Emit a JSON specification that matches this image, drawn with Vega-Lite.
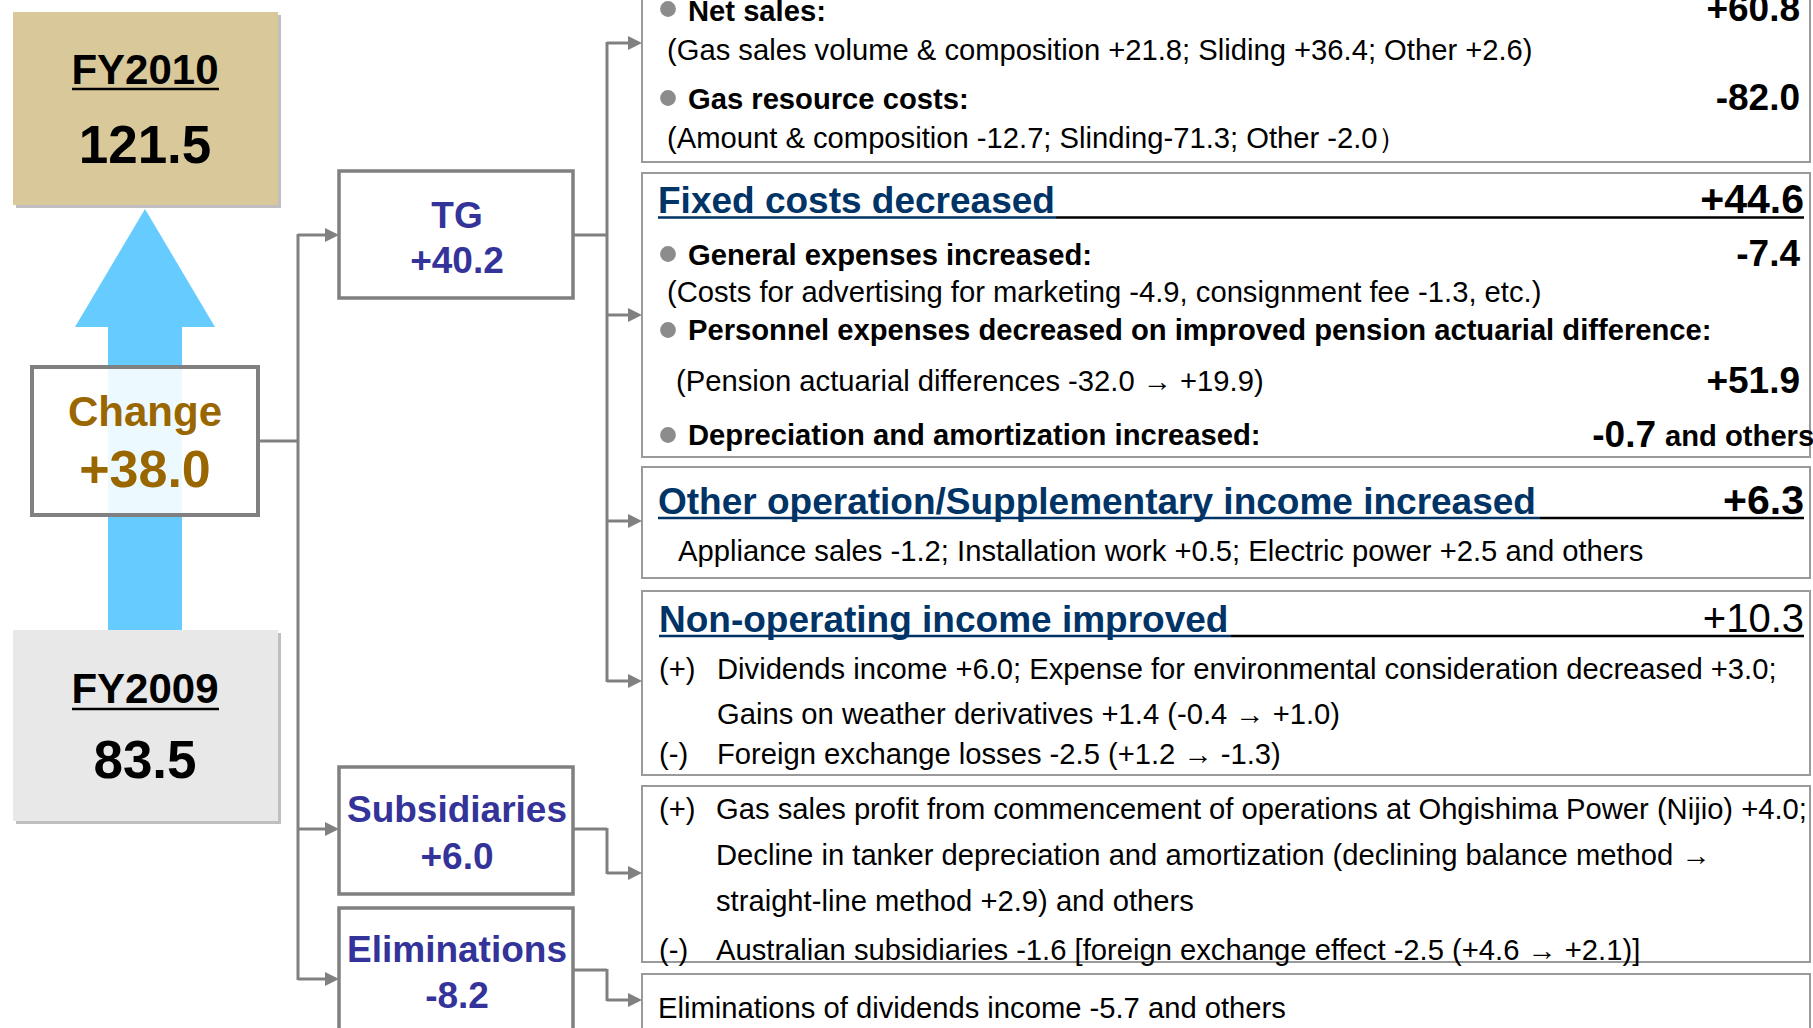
{
  "$schema": "https://vega.github.io/schema/vega-lite/v6.json",
  "width": 1813,
  "height": 1028,
  "padding": 0,
  "autosize": {"type": "fit", "contains": "padding"},
  "background": "white",
  "config": {"view": {"stroke": null}, "text": {"font": "Liberation Sans"}},
  "datasets": {
    "boxes": [
      {"id": "fy2010", "x1": 13, "x2": 278, "y1": 12, "y2": 205, "kind": "fy10"},
      {"id": "fy2009", "x1": 13, "x2": 278, "y1": 630, "y2": 821, "kind": "fy09"},
      {"id": "shaft", "x1": 108, "x2": 182, "y1": 320, "y2": 630, "kind": "shaft"},
      {"id": "change", "x1": 32, "x2": 258, "y1": 367, "y2": 515, "kind": "change"},
      {"id": "TG", "x1": 339, "x2": 573, "y1": 171, "y2": 298, "kind": "mid"},
      {"id": "Subs", "x1": 339, "x2": 573, "y1": 767, "y2": 894, "kind": "mid"},
      {"id": "Elim", "x1": 339, "x2": 573, "y1": 908, "y2": 1040, "kind": "mid"},
      {"id": "b1", "x1": 642, "x2": 1810, "y1": -6, "y2": 162, "kind": "right"},
      {"id": "b2", "x1": 642, "x2": 1810, "y1": 173, "y2": 457, "kind": "right"},
      {"id": "b3", "x1": 642, "x2": 1810, "y1": 467, "y2": 578, "kind": "right"},
      {"id": "b4", "x1": 642, "x2": 1810, "y1": 591, "y2": 775, "kind": "right"},
      {"id": "b5", "x1": 642, "x2": 1810, "y1": 786, "y2": 962, "kind": "right"},
      {"id": "b6", "x1": 642, "x2": 1810, "y1": 974, "y2": 1040, "kind": "right"}
    ],
    "arrowhead": [
      {"x": 75, "y": 327, "base": 327},
      {"x": 145, "y": 209, "base": 327},
      {"x": 215, "y": 327, "base": 327}
    ],
    "segs": [
      {"x1": 258, "y1": 441, "x2": 298, "y2": 441, "kind": "conn"},
      {"x1": 298, "y1": 234, "x2": 298, "y2": 980, "kind": "conn"},
      {"x1": 298, "y1": 235, "x2": 328, "y2": 235, "kind": "conn"},
      {"x1": 298, "y1": 829, "x2": 328, "y2": 829, "kind": "conn"},
      {"x1": 298, "y1": 979, "x2": 328, "y2": 979, "kind": "conn"},
      {"x1": 573, "y1": 235, "x2": 607, "y2": 235, "kind": "conn"},
      {"x1": 607, "y1": 42, "x2": 607, "y2": 682, "kind": "conn"},
      {"x1": 607, "y1": 43, "x2": 631, "y2": 43, "kind": "conn"},
      {"x1": 607, "y1": 315, "x2": 631, "y2": 315, "kind": "conn"},
      {"x1": 607, "y1": 521, "x2": 631, "y2": 521, "kind": "conn"},
      {"x1": 607, "y1": 681, "x2": 631, "y2": 681, "kind": "conn"},
      {"x1": 573, "y1": 829, "x2": 607, "y2": 829, "kind": "conn"},
      {"x1": 607, "y1": 828, "x2": 607, "y2": 874, "kind": "conn"},
      {"x1": 607, "y1": 873, "x2": 631, "y2": 873, "kind": "conn"},
      {"x1": 573, "y1": 970, "x2": 607, "y2": 970, "kind": "conn"},
      {"x1": 607, "y1": 969, "x2": 607, "y2": 1001, "kind": "conn"},
      {"x1": 607, "y1": 1000, "x2": 631, "y2": 1000, "kind": "conn"},
      {"x1": 72, "y1": 89, "x2": 219, "y2": 89, "kind": "black"},
      {"x1": 72, "y1": 709, "x2": 219, "y2": 709, "kind": "black"},
      {"x1": 658, "y1": 217.5, "x2": 1056, "y2": 217.5, "kind": "blue"},
      {"x1": 1056, "y1": 217.5, "x2": 1804, "y2": 217.5, "kind": "black"},
      {"x1": 658, "y1": 518, "x2": 1540, "y2": 518, "kind": "blue"},
      {"x1": 1540, "y1": 518, "x2": 1804, "y2": 518, "kind": "black"},
      {"x1": 659, "y1": 636, "x2": 1231, "y2": 636, "kind": "blue"},
      {"x1": 1231, "y1": 636, "x2": 1804, "y2": 636, "kind": "black"}
    ],
    "heads": [
      {"x": 339, "y": 235}, {"x": 339, "y": 829}, {"x": 339, "y": 979},
      {"x": 642, "y": 43}, {"x": 642, "y": 315}, {"x": 642, "y": 521}, {"x": 642, "y": 681},
      {"x": 642, "y": 873}, {"x": 642, "y": 1000}
    ],
    "dots": [
      {"x": 668, "y": 9}, {"x": 668, "y": 98}, {"x": 668, "y": 254}, {"x": 668, "y": 330}, {"x": 668, "y": 435}
    ],
    "texts": [
      {"t": "FY2010", "x": 145, "y": 84, "cls": "fyl"},
      {"t": "121.5", "x": 145, "y": 163, "cls": "fyv"},
      {"t": "Change", "x": 145, "y": 426, "cls": "chl"},
      {"t": "+38.0", "x": 145, "y": 487, "cls": "chv"},
      {"t": "FY2009", "x": 145, "y": 703, "cls": "fyl"},
      {"t": "83.5", "x": 145, "y": 778, "cls": "fyv"},
      {"t": "TG", "x": 457, "y": 228, "cls": "mid"},
      {"t": "+40.2", "x": 457, "y": 273, "cls": "mid"},
      {"t": "Subsidiaries", "x": 457, "y": 822, "cls": "mid"},
      {"t": "+6.0", "x": 457, "y": 869, "cls": "mid"},
      {"t": "Eliminations", "x": 457, "y": 962, "cls": "mid"},
      {"t": "-8.2", "x": 457, "y": 1008, "cls": "mid"},
      {"t": "Net sales:", "x": 688, "y": 21, "cls": "b"},
      {"t": "+60.8", "x": 1800, "y": 21, "cls": "amt"},
      {"t": "(Gas sales volume & composition +21.8; Sliding +36.4; Other +2.6)", "x": 667, "y": 60, "cls": "r"},
      {"t": "Gas resource costs:", "x": 688, "y": 109, "cls": "b"},
      {"t": "-82.0", "x": 1800, "y": 110, "cls": "amt"},
      {"t": "(Amount & composition -12.7; Slinding-71.3; Other -2.0）", "x": 667, "y": 148, "cls": "r"},
      {"t": "Fixed costs decreased", "x": 658, "y": 213, "cls": "head"},
      {"t": "+44.6", "x": 1804, "y": 213, "cls": "amtH"},
      {"t": "General expenses increased:", "x": 688, "y": 265, "cls": "b"},
      {"t": "-7.4", "x": 1800, "y": 266, "cls": "amt"},
      {"t": "(Costs for advertising for marketing -4.9, consignment fee -1.3, etc.)", "x": 667, "y": 302, "cls": "r"},
      {"t": "Personnel expenses decreased on improved pension actuarial difference:", "x": 688, "y": 340, "cls": "b"},
      {"t": "(Pension actuarial differences -32.0 → +19.9)", "x": 676, "y": 391, "cls": "r"},
      {"t": "+51.9", "x": 1800, "y": 393, "cls": "amt"},
      {"t": "Depreciation and amortization increased:", "x": 688, "y": 445, "cls": "b"},
      {"t": "-0.7", "x": 1656, "y": 447, "cls": "amt"},
      {"t": "and others", "x": 1665, "y": 446, "cls": "b"},
      {"t": "Other operation/Supplementary income increased", "x": 658, "y": 514, "cls": "head"},
      {"t": "+6.3", "x": 1804, "y": 514, "cls": "amtH"},
      {"t": "Appliance sales -1.2; Installation work +0.5; Electric power +2.5 and others", "x": 678, "y": 561, "cls": "r"},
      {"t": "Non-operating income improved", "x": 659, "y": 632, "cls": "head"},
      {"t": "+10.3", "x": 1804, "y": 632, "cls": "amtR"},
      {"t": "(+)", "x": 659, "y": 679, "cls": "r"},
      {"t": "Dividends income +6.0; Expense for environmental consideration decreased +3.0;", "x": 717, "y": 679, "cls": "r"},
      {"t": "Gains on weather derivatives +1.4 (-0.4 → +1.0)", "x": 717, "y": 724, "cls": "r"},
      {"t": "(-)", "x": 659, "y": 764, "cls": "r"},
      {"t": "Foreign exchange losses -2.5 (+1.2 → -1.3)", "x": 717, "y": 764, "cls": "r"},
      {"t": "(+)", "x": 659, "y": 819, "cls": "r"},
      {"t": "Gas sales profit from commencement of operations at Ohgishima Power (Nijio) +4.0;", "x": 716, "y": 819, "cls": "r"},
      {"t": "Decline in tanker depreciation and amortization (declining balance method →", "x": 716, "y": 865, "cls": "r"},
      {"t": "straight-line method +2.9) and others", "x": 716, "y": 911, "cls": "r"},
      {"t": "(-)", "x": 659, "y": 960, "cls": "r"},
      {"t": "Australian subsidiaries -1.6 [foreign exchange effect -2.5 (+4.6 → +2.1)]", "x": 716, "y": 960, "cls": "r"},
      {"t": "Eliminations of dividends income -5.7 and others", "x": 658, "y": 1018, "cls": "r"}
    ]
  },
  "layer": [
    {
      "data": {"name": "boxes"},
      "transform": [{"filter": "datum.kind === 'fy10' || datum.kind === 'fy09'"}],
      "mark": {"type": "rect", "fill": "#BFBFBF", "xOffset": 3, "yOffset": 3, "x2Offset": 3, "y2Offset": 3, "clip": true},
      "encoding": {
        "x": {"field": "x1", "type": "quantitative", "scale": {"domain": [0, 1813], "nice": false, "zero": false}, "axis": null},
        "x2": {"field": "x2"},
        "y": {"field": "y1", "type": "quantitative", "scale": {"domain": [0, 1028], "nice": false, "zero": false, "reverse": true}, "axis": null},
        "y2": {"field": "y2"}
      }
    },
    {
      "data": {"name": "boxes"},
      "transform": [{"filter": "datum.kind === 'fy10'"}],
      "mark": {"type": "rect", "fill": "#D9C99A", "clip": true},
      "encoding": {
        "x": {"field": "x1", "type": "quantitative", "axis": null},
        "x2": {"field": "x2"},
        "y": {"field": "y1", "type": "quantitative", "axis": null},
        "y2": {"field": "y2"}
      }
    },
    {
      "data": {"name": "boxes"},
      "transform": [{"filter": "datum.kind === 'fy09'"}],
      "mark": {"type": "rect", "fill": "#E8E8E8", "clip": true},
      "encoding": {
        "x": {"field": "x1", "type": "quantitative", "axis": null},
        "x2": {"field": "x2"},
        "y": {"field": "y1", "type": "quantitative", "axis": null},
        "y2": {"field": "y2"}
      }
    },
    {
      "data": {"name": "boxes"},
      "transform": [{"filter": "datum.kind === 'shaft'"}],
      "mark": {"type": "rect", "fill": "#66CCFF", "clip": true},
      "encoding": {
        "x": {"field": "x1", "type": "quantitative", "axis": null},
        "x2": {"field": "x2"},
        "y": {"field": "y1", "type": "quantitative", "axis": null},
        "y2": {"field": "y2"}
      }
    },
    {
      "data": {"name": "arrowhead"},
      "mark": {"type": "area", "fill": "#66CCFF", "opacity": 1, "interpolate": "linear", "clip": true},
      "encoding": {
        "x": {"field": "x", "type": "quantitative", "axis": null},
        "y": {"field": "y", "type": "quantitative", "axis": null},
        "y2": {"field": "base"}
      }
    },
    {
      "data": {"name": "segs"},
      "transform": [{"filter": "datum.kind === 'conn'"}],
      "mark": {"type": "rule", "color": "#808080", "strokeWidth": 3, "clip": true},
      "encoding": {
        "x": {"field": "x1", "type": "quantitative", "axis": null},
        "x2": {"field": "x2"},
        "y": {"field": "y1", "type": "quantitative", "axis": null},
        "y2": {"field": "y2"}
      }
    },
    {
      "data": {"name": "boxes"},
      "transform": [{"filter": "datum.kind === 'change'"}],
      "mark": {"type": "rect", "fill": "white", "fillOpacity": 0.88, "stroke": "#808080", "strokeWidth": 4, "clip": true},
      "encoding": {
        "x": {"field": "x1", "type": "quantitative", "axis": null},
        "x2": {"field": "x2"},
        "y": {"field": "y1", "type": "quantitative", "axis": null},
        "y2": {"field": "y2"}
      }
    },
    {
      "data": {"name": "boxes"},
      "transform": [{"filter": "datum.kind === 'mid'"}],
      "mark": {"type": "rect", "fill": "white", "stroke": "#808080", "strokeWidth": 3.5, "clip": true},
      "encoding": {
        "x": {"field": "x1", "type": "quantitative", "axis": null},
        "x2": {"field": "x2"},
        "y": {"field": "y1", "type": "quantitative", "axis": null},
        "y2": {"field": "y2"}
      }
    },
    {
      "data": {"name": "boxes"},
      "transform": [{"filter": "datum.kind === 'right'"}],
      "mark": {"type": "rect", "fill": "white", "stroke": "#9A9A9A", "strokeWidth": 2, "clip": true},
      "encoding": {
        "x": {"field": "x1", "type": "quantitative", "axis": null},
        "x2": {"field": "x2"},
        "y": {"field": "y1", "type": "quantitative", "axis": null},
        "y2": {"field": "y2"}
      }
    },
    {
      "data": {"name": "heads"},
      "mark": {"type": "point", "shape": "M-2,-1L0,0L-2,1Z", "size": 196, "filled": true, "color": "#808080", "opacity": 1, "strokeWidth": 0, "clip": true},
      "encoding": {
        "x": {"field": "x", "type": "quantitative", "axis": null},
        "y": {"field": "y", "type": "quantitative", "axis": null}
      }
    },
    {
      "data": {"name": "segs"},
      "transform": [{"filter": "datum.kind === 'black'"}],
      "mark": {"type": "rule", "color": "#000000", "strokeWidth": 2.5, "clip": true},
      "encoding": {
        "x": {"field": "x1", "type": "quantitative", "axis": null},
        "x2": {"field": "x2"},
        "y": {"field": "y1", "type": "quantitative", "axis": null},
        "y2": {"field": "y2"}
      }
    },
    {
      "data": {"name": "segs"},
      "transform": [{"filter": "datum.kind === 'blue'"}],
      "mark": {"type": "rule", "color": "#003366", "strokeWidth": 2.5, "clip": true},
      "encoding": {
        "x": {"field": "x1", "type": "quantitative", "axis": null},
        "x2": {"field": "x2"},
        "y": {"field": "y1", "type": "quantitative", "axis": null},
        "y2": {"field": "y2"}
      }
    },
    {
      "data": {"name": "dots"},
      "mark": {"type": "point", "shape": "circle", "size": 250, "filled": true, "color": "#8C8C8C", "opacity": 1, "strokeWidth": 0, "clip": true},
      "encoding": {
        "x": {"field": "x", "type": "quantitative", "axis": null},
        "y": {"field": "y", "type": "quantitative", "axis": null}
      }
    },
    {
      "data": {"name": "texts"},
      "transform": [{"filter": "datum.cls === 'fyl'"}],
      "mark": {"type": "text", "fontSize": 42, "fontWeight": "bold", "align": "center", "baseline": "alphabetic", "color": "#000000", "clip": true},
      "encoding": {"x": {"field": "x", "type": "quantitative", "axis": null}, "y": {"field": "y", "type": "quantitative", "axis": null}, "text": {"field": "t"}}
    },
    {
      "data": {"name": "texts"},
      "transform": [{"filter": "datum.cls === 'fyv'"}],
      "mark": {"type": "text", "fontSize": 53, "fontWeight": "bold", "align": "center", "baseline": "alphabetic", "color": "#000000", "clip": true},
      "encoding": {"x": {"field": "x", "type": "quantitative", "axis": null}, "y": {"field": "y", "type": "quantitative", "axis": null}, "text": {"field": "t"}}
    },
    {
      "data": {"name": "texts"},
      "transform": [{"filter": "datum.cls === 'chl'"}],
      "mark": {"type": "text", "fontSize": 42, "fontWeight": "bold", "align": "center", "baseline": "alphabetic", "color": "#996600", "clip": true},
      "encoding": {"x": {"field": "x", "type": "quantitative", "axis": null}, "y": {"field": "y", "type": "quantitative", "axis": null}, "text": {"field": "t"}}
    },
    {
      "data": {"name": "texts"},
      "transform": [{"filter": "datum.cls === 'chv'"}],
      "mark": {"type": "text", "fontSize": 52, "fontWeight": "bold", "align": "center", "baseline": "alphabetic", "color": "#996600", "clip": true},
      "encoding": {"x": {"field": "x", "type": "quantitative", "axis": null}, "y": {"field": "y", "type": "quantitative", "axis": null}, "text": {"field": "t"}}
    },
    {
      "data": {"name": "texts"},
      "transform": [{"filter": "datum.cls === 'mid'"}],
      "mark": {"type": "text", "fontSize": 37, "fontWeight": "bold", "align": "center", "baseline": "alphabetic", "color": "#333399", "clip": true},
      "encoding": {"x": {"field": "x", "type": "quantitative", "axis": null}, "y": {"field": "y", "type": "quantitative", "axis": null}, "text": {"field": "t"}}
    },
    {
      "data": {"name": "texts"},
      "transform": [{"filter": "datum.cls === 'head'"}],
      "mark": {"type": "text", "fontSize": 37, "fontWeight": "bold", "align": "left", "baseline": "alphabetic", "color": "#003366", "clip": true},
      "encoding": {"x": {"field": "x", "type": "quantitative", "axis": null}, "y": {"field": "y", "type": "quantitative", "axis": null}, "text": {"field": "t"}}
    },
    {
      "data": {"name": "texts"},
      "transform": [{"filter": "datum.cls === 'amt'"}],
      "mark": {"type": "text", "fontSize": 37, "fontWeight": "bold", "align": "right", "baseline": "alphabetic", "color": "#000000", "clip": true},
      "encoding": {"x": {"field": "x", "type": "quantitative", "axis": null}, "y": {"field": "y", "type": "quantitative", "axis": null}, "text": {"field": "t"}}
    },
    {
      "data": {"name": "texts"},
      "transform": [{"filter": "datum.cls === 'amtH'"}],
      "mark": {"type": "text", "fontSize": 41, "fontWeight": "bold", "align": "right", "baseline": "alphabetic", "color": "#000000", "clip": true},
      "encoding": {"x": {"field": "x", "type": "quantitative", "axis": null}, "y": {"field": "y", "type": "quantitative", "axis": null}, "text": {"field": "t"}}
    },
    {
      "data": {"name": "texts"},
      "transform": [{"filter": "datum.cls === 'amtR'"}],
      "mark": {"type": "text", "fontSize": 40, "fontWeight": "normal", "align": "right", "baseline": "alphabetic", "color": "#000000", "clip": true},
      "encoding": {"x": {"field": "x", "type": "quantitative", "axis": null}, "y": {"field": "y", "type": "quantitative", "axis": null}, "text": {"field": "t"}}
    },
    {
      "data": {"name": "texts"},
      "transform": [{"filter": "datum.cls === 'b'"}],
      "mark": {"type": "text", "fontSize": 29.2, "fontWeight": "bold", "align": "left", "baseline": "alphabetic", "color": "#000000", "clip": true},
      "encoding": {"x": {"field": "x", "type": "quantitative", "axis": null}, "y": {"field": "y", "type": "quantitative", "axis": null}, "text": {"field": "t"}}
    },
    {
      "data": {"name": "texts"},
      "transform": [{"filter": "datum.cls === 'r'"}],
      "mark": {"type": "text", "fontSize": 29.2, "fontWeight": "normal", "align": "left", "baseline": "alphabetic", "color": "#000000", "clip": true},
      "encoding": {"x": {"field": "x", "type": "quantitative", "axis": null}, "y": {"field": "y", "type": "quantitative", "axis": null}, "text": {"field": "t"}}
    }
  ]
}
